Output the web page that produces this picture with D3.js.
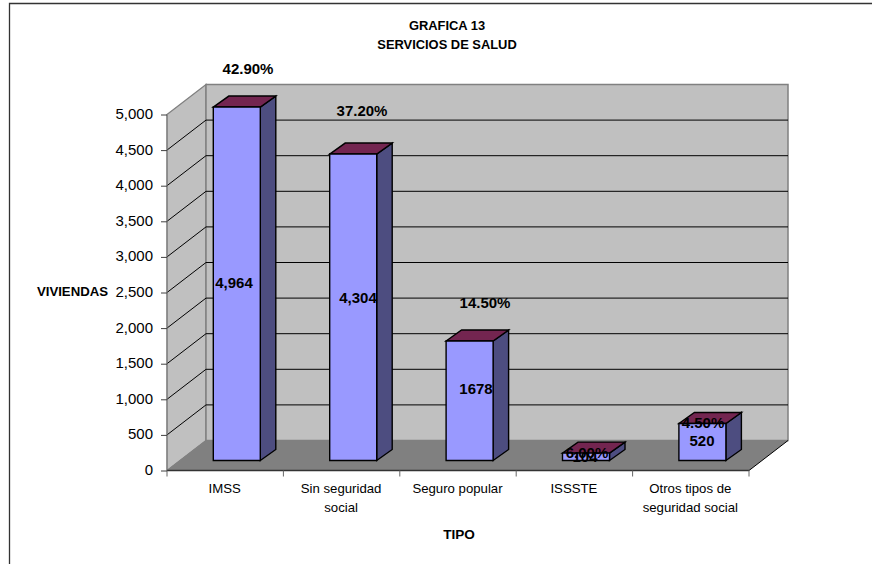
<!DOCTYPE html>
<html><head><meta charset="utf-8">
<script src="https://cdn.jsdelivr.net/npm/d3@7"></script>
<style>html,body{margin:0;padding:0;background:#fff}svg{display:block}text{font-family:"Liberation Sans",Arial,sans-serif;fill:#000}</style>
</head><body><svg id="c" width="872" height="564"></svg>
<script>
const categories = [["IMSS"],["Sin seguridad","social"],["Seguro popular"],["ISSSTE"],["Otros tipos de","seguridad social"]];
const viviendas = [4964, 4304, 1678, 104, 520];
const valueLabels = ["4,964","4,304","1678","104","520"];
const percentLabels = ["42.90%","37.20%","14.50%","6.00%","4.50%"];
const yTicks = [0,500,1000,1500,2000,2500,3000,3500,4000,4500,5000];
const titleLines = ["GRAFICA 13","SERVICIOS DE SALUD"];

// hand-placed label anchors of the original (px)
const valueAnchor = [[234,283],[358,298],[476,389],[585,457],[702,441]];
const percentAnchor = [[248,69],[362,111],[485,303],[587,453],[703,423]];

const svg = d3.select("#c");
const left=167,right=749,base=470.5,top5=114.5,wallDx=39,wallDy=30,barDx=15.5,barDy=11;
const x = d3.scaleBand().domain(d3.range(categories.length)).range([left,right]);
const y = d3.scaleLinear().domain([0,5000]).range([base,top5]);
const barW = 47;
const line = d3.line();
const poly=(pts,fill,stroke,sw)=>svg.append("path").attr("d",line(pts)+"Z").attr("fill",fill).attr("stroke",stroke).attr("stroke-width",sw).attr("stroke-linejoin","miter");

// frame
svg.append("path").attr("d","M9.5,564V3.5H872").attr("fill","none").attr("stroke","#333").attr("stroke-width",1.3);

// walls and floor
poly([[left,base],[left+wallDx,base-wallDy],[right+wallDx,base-wallDy],[right,base]],"#808080","none",0);
poly([[left,y(5000)],[left+wallDx,y(5000)-wallDy],[left+wallDx,base-wallDy],[left,base]],"#c0c0c0","#808080",1.3);
poly([[left+wallDx,y(5000)-wallDy],[right+wallDx,y(5000)-wallDy],[right+wallDx,base-wallDy],[left+wallDx,base-wallDy]],"#c0c0c0","#808080",1.5);
// gridlines
yTicks.slice(1,-1).forEach(t=>{
  svg.append("path").attr("d",line([[left,y(t)],[left+wallDx,y(t)-wallDy],[right+wallDx,y(t)-wallDy]])).attr("fill","none").attr("stroke","#000").attr("stroke-width",1);
});
// floor edges
svg.append("path").attr("d",line([[left,base],[left+wallDx,base-wallDy]])).attr("stroke","#808080").attr("fill","none");
svg.append("path").attr("d",line([[right,base],[right+wallDx,base-wallDy]])).attr("stroke","#000").attr("fill","none");

// y axis
const yAxis = d3.axisLeft(y).tickValues(yTicks).tickFormat(d3.format(",")).tickSize(6).tickPadding(8);
const gy = svg.append("g").attr("transform",`translate(${left},0)`).call(yAxis);
gy.select(".domain").attr("stroke","#808080").attr("d",`M0,${base}V${top5}`);
gy.selectAll(".tick line").attr("stroke","#404040");
gy.selectAll("text").attr("font-size",15).attr("dy","0.27em").style("font-family",'"Liberation Sans"').attr("fill","#111");

// x axis
const gx = svg.append("g");
gx.append("line").attr("x1",left).attr("x2",right).attr("y1",base).attr("y2",base).attr("stroke","#333").attr("stroke-width",1.3);
d3.range(categories.length+1).forEach(i=>{
  const px = i<categories.length?x(i):right;
  gx.append("line").attr("x1",px).attr("x2",px).attr("y1",base).attr("y2",base+6).attr("stroke","#666");
});

// bars
viviendas.forEach((v,i)=>{
  const x0=x(i)+46.3, x1=x0+barW, by=base-10, ty=by-(base-y(v));
  poly([[x1,by],[x1+barDx,by-barDy],[x1+barDx,ty-barDy],[x1,ty]],"#4d4d80","#000",1.4);
  poly([[x0,ty],[x0+barDx,ty-barDy],[x1+barDx,ty-barDy],[x1,ty]],"#732550","#000",1.4);
  poly([[x0,by],[x0,ty],[x1,ty],[x1,by]],"#9999ff","#000",1.4);
});

// category labels
categories.forEach((c,i)=>{
  const t=svg.append("text").attr("text-anchor","middle").attr("font-size",13.2).attr("fill","#111");
  c.forEach((s,j)=>t.append("tspan").attr("x",x(i)+x.bandwidth()/2-0.5).attr("y",493+j*19.3).text(s));
});

// data labels
const lab=(a,s,size)=>svg.append("text").attr("x",a[0]).attr("y",a[1]).attr("dy","0.35em").attr("text-anchor","middle").attr("font-size",size).attr("font-weight","bold").text(s);
valueLabels.forEach((s,i)=>lab(valueAnchor[i],s,15));
percentLabels.forEach((s,i)=>lab(percentAnchor[i],s,15));

// titles
titleLines.forEach((s,i)=>lab([447,25+i*19],s,12.9));
lab([72.5,291],"VIVIENDAS",13.2);
lab([459,534],"TIPO",13.6);
</script></body></html>
